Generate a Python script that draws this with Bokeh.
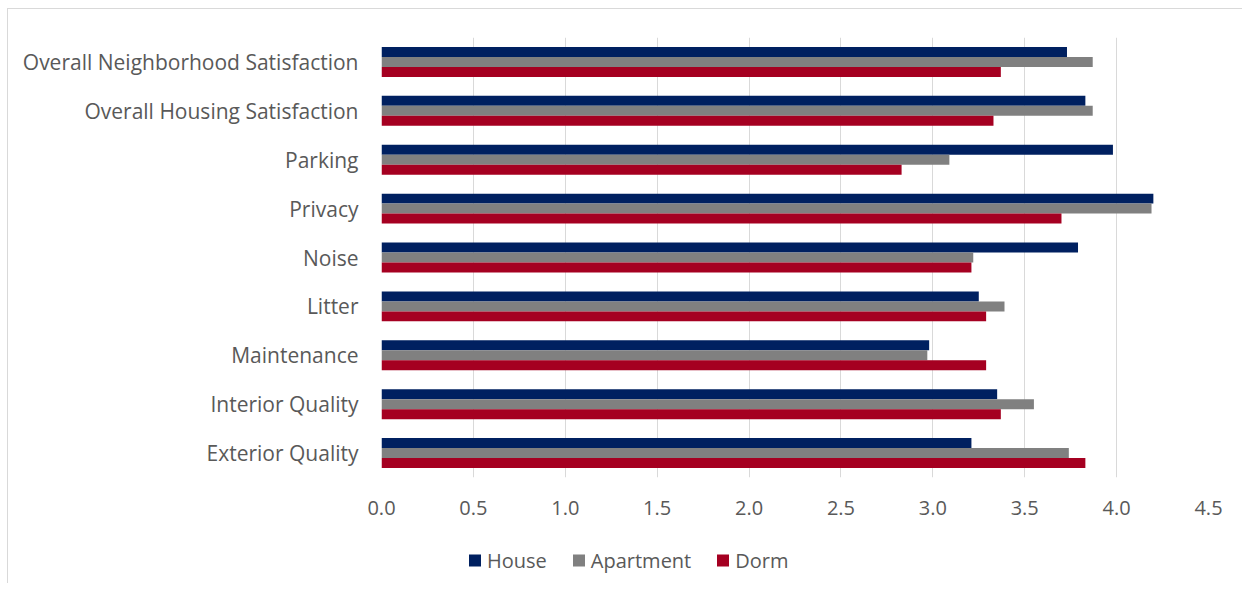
from bokeh.plotting import figure
from bokeh.layouts import column
from bokeh.models import (FactorRange, Range1d, SingleIntervalTicker, NumeralTickFormatter,
                          Legend, LegendItem)
from bokeh.transform import dodge
from bokeh.embed import file_html
from bokeh.resources import INLINE

categories = ["Overall Neighborhood Satisfaction", "Overall Housing Satisfaction", "Parking",
              "Privacy", "Noise", "Litter", "Maintenance", "Interior Quality", "Exterior Quality"]
house = [3.73, 3.83, 3.98, 4.20, 3.79, 3.25, 2.98, 3.35, 3.21]
apartment = [3.87, 3.87, 3.09, 4.19, 3.22, 3.39, 2.97, 3.55, 3.74]
dorm = [3.37, 3.33, 2.83, 3.70, 3.21, 3.29, 3.29, 3.37, 3.83]
series = ["House", "Apartment", "Dorm"]
colors = ["#002060", "#808080", "#A50021"]

FONT = "Open Sans"
TXT = "#595959"

p = figure(y_range=FactorRange(*list(reversed(categories))), x_range=(0, 4.5),
           frame_width=827, frame_height=440,
           min_border_left=373, min_border_right=34, min_border_top=28, min_border_bottom=60,
           output_backend="svg", toolbar_location=None)

data = {"cat": categories, "House": house, "Apartment": apartment, "Dorm": dorm}
offsets = [0.204, 0.0, -0.204]
for s, c, off in zip(series, colors, offsets):
    p.hbar(y=dodge("cat", off, range=p.y_range), right=s, left=0, height=0.204,
           source=data, color=c, line_color=None)

p.outline_line_color = None
p.ygrid.grid_line_color = None
p.xgrid.grid_line_color = "#d9d9d9"
p.xgrid.grid_line_width = 1
p.xaxis.ticker = SingleIntervalTicker(interval=0.5)
p.xaxis.formatter = NumeralTickFormatter(format="0.0")
for ax in (p.xaxis, p.yaxis):
    ax.axis_line_color = None
    ax.major_tick_line_color = None
    ax.minor_tick_line_color = None
    ax.major_label_text_font = FONT
    ax.major_label_text_color = TXT
p.xaxis.major_label_text_font_size = "20px"
p.yaxis.major_label_text_font_size = "21px"
p.xaxis.major_label_standoff = 17
p.yaxis.major_label_standoff = 17

# legend strip below the chart (same borders as the main figure)
q = figure(frame_width=827, frame_height=46, x_range=Range1d(0, 1), y_range=Range1d(0, 1),
           min_border_left=373, min_border_right=34, min_border_top=0, min_border_bottom=0,
           x_axis_type=None, y_axis_type=None, output_backend="svg", toolbar_location=None)
q.outline_line_color = None
q.xgrid.visible = False
q.ygrid.visible = False
items = []
for s, c in zip(series, colors):
    # hidden proxy renderer (outside the visible range) that only supplies the legend swatch
    r = q.hbar(y=[-5], right=[0], left=[0], height=0.2, color=c, line_color=None)
    items.append(LegendItem(label=s, renderers=[r]))
lg = Legend(items=items, orientation="horizontal", location="center_left", margin=86, padding=0,
            border_line_color=None, background_fill_alpha=0,
            glyph_width=15, glyph_height=15, label_standoff=5, spacing=24,
            label_text_font=FONT, label_text_font_size="20px", label_text_color=TXT)
q.add_layout(lg)

for f in (p, q):
    try:
        f.frame_align = False
    except Exception:
        pass

layout = column(p, q, spacing=0)
layout.styles = {"margin-left": "7px", "margin-top": "8px",
                 "border-top": "1px solid #d9d9d9", "border-left": "1px solid #d9d9d9"}

open("out.html", "w").write(file_html(layout, INLINE))
